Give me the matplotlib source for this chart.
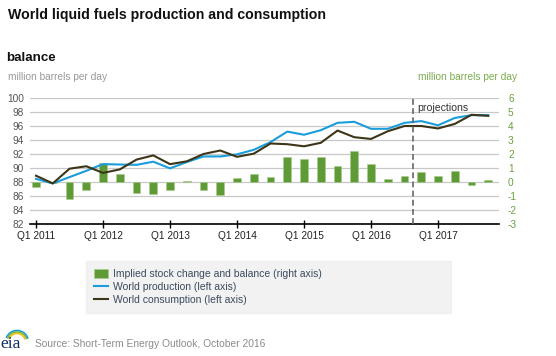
import numpy as np
import matplotlib
matplotlib.use('Agg')
import matplotlib.pyplot as plt
from matplotlib.patches import Arc, Patch
from matplotlib.lines import Line2D

plt.rcParams['font.family'] = ['Liberation Sans', 'DejaVu Sans']
plt.rcParams['axes.unicode_minus'] = False

# quarterly data Q1 2011 .. Q4 2017
quarters = [f'Q{q} {y}' for y in range(2011, 2018) for q in range(1, 5)]
production = [88.45, 87.8, 88.7, 89.6, 90.55, 90.5, 90.45, 90.9,
              89.95, 90.85, 91.65, 91.65, 91.95, 92.6, 93.7, 95.2,
              94.75, 95.4, 96.45, 96.6, 95.6, 95.6, 96.45, 96.7,
              96.1, 97.15, 97.55, 97.55]
consumption = [88.9, 87.8, 89.9, 90.25, 89.3, 89.8, 91.2, 91.8,
               90.55, 90.95, 92.0, 92.5, 91.6, 92.05, 93.5, 93.4,
               93.1, 93.6, 95.35, 94.4, 94.15, 95.25, 96.0, 96.0,
               95.65, 96.3, 97.6, 97.45]
balance = [-0.38, -0.1, -1.2, -0.56, 1.38, 0.59, -0.8, -0.87,
           -0.56, 0.1, -0.55, -0.9, 0.29, 0.6, 0.33, 1.81,
           1.62, 1.8, 1.15, 2.24, 1.29, 0.19, 0.4, 0.73,
           0.45, 0.78, -0.18, 0.16]
tick_labels = ['Q1 2011', 'Q1 2012', 'Q1 2013', 'Q1 2014', 'Q1 2015', 'Q1 2016', 'Q1 2017']
projection_start = 22.5

green = '#5e9a35'
blue = '#1a9ddb'
dark = '#3d3517'

x = np.arange(len(quarters))

fig = plt.figure(figsize=(5.56, 3.56), dpi=100)
ax = fig.add_axes([30/556, 1-224/356, 469/556, 126/356])
ax2 = ax.twinx()
ax.set_zorder(ax2.get_zorder() + 1)
ax.patch.set_visible(False)

# bars on right axis
ax2.bar(x, balance, width=0.46, color=green, edgecolor='#a9cc8c', linewidth=0.4, zorder=3)
ax2.set_ylim(-3, 6)
ax2.set_yticks(range(-3, 7))
ax2.grid(axis='y', color='#c8c8c8', linewidth=0.9)
ax2.set_axisbelow(True)
ax2.tick_params(axis='y', length=0, pad=6.5, labelsize=7.3, labelcolor='#6aa040')

# lines on left axis
ax.plot(x, production, color=blue, linewidth=1.5, zorder=4)
ax.plot(x, consumption, color=dark, linewidth=1.5, zorder=5)
ax.set_ylim(82, 100)
ax.set_yticks(range(82, 101, 2))
ax.tick_params(axis='y', length=0, pad=4.5, labelsize=7.3, labelcolor='#555555')
ax.set_xlim(-0.36, 27.64)
ax.set_xticks(x[::4])
ax.set_xticklabels(tick_labels)
ax.tick_params(axis='x', direction='inout', length=6, width=1, color='black',
               labelsize=7.3, labelcolor='#222222', pad=2)

for a in (ax, ax2):
    for s in ['top', 'left', 'right', 'bottom']:
        a.spines[s].set_visible(False)
ax.spines['bottom'].set_visible(True)
ax.spines['bottom'].set_color('black')
ax.spines['bottom'].set_linewidth(1.2)

ax.axvline(projection_start, color='#666666', linestyle=(0, (3.5, 2)), linewidth=1.2, zorder=6)
ax.text(projection_start + 0.25, 98.6, 'projections', fontsize=7.6, color='#333333',
        ha='left', va='center')

# titles
fig.text(8/556, 1-15/356, 'World liquid fuels production and consumption', fontsize=10.2,
         fontweight='bold', color='#111111', va='center')
fig.text(6/556, 1-58/356, 'balance', fontsize=9.6, fontweight='bold', color='#111111', va='center')
fig.text(8/556, 1-77/356, 'million barrels per day', fontsize=7.3, color='#999999', va='center')
fig.text(517/556, 1-77/356, 'million barrels per day', fontsize=7.3, color='#7aab4f',
         va='center', ha='right')

# legend
handles = [Patch(facecolor=green, edgecolor='#a9cc8c', linewidth=0.4),
           Line2D([], [], color=blue, linewidth=1.5),
           Line2D([], [], color=dark, linewidth=1.5)]
labels = ['Implied stock change and balance (right axis)',
          'World production (left axis)',
          'World consumption (left axis)']
leg = fig.legend(handles, labels, loc='upper left', bbox_to_anchor=(86/556, 1-261/356-0.01, 365/556, 0.01),
                 mode='expand', borderaxespad=0, frameon=True, fancybox=False, fontsize=7.5,
                 handlelength=1.4, handleheight=1.0, handletextpad=0.45, labelspacing=0.27,
                 borderpad=0.75, labelcolor='#3b4a5e')
leg.get_frame().set_facecolor('#efefef')
leg.get_frame().set_edgecolor('#efefef')

# footer
fig.text(35/556, 1-344/356, 'Source: Short-Term Energy Outlook, October 2016', fontsize=7.4,
         color='#8c8c8c', va='center')
fig.text(0, 1-344/356, 'eia', fontsize=12.5, family='Liberation Serif', color='#0d2d5e', va='center')
for r, c in [(11.5, '#1a9ddb'), (10, '#7bb642'), (8.5, '#f2c318')]:
    fig.add_artist(Arc((17/556, 1-342/356), 2*r/556, 2*r/356, theta1=25, theta2=150,
                       color=c, linewidth=1.2, transform=fig.transFigure))

fig.savefig('out.png', dpi=100)
